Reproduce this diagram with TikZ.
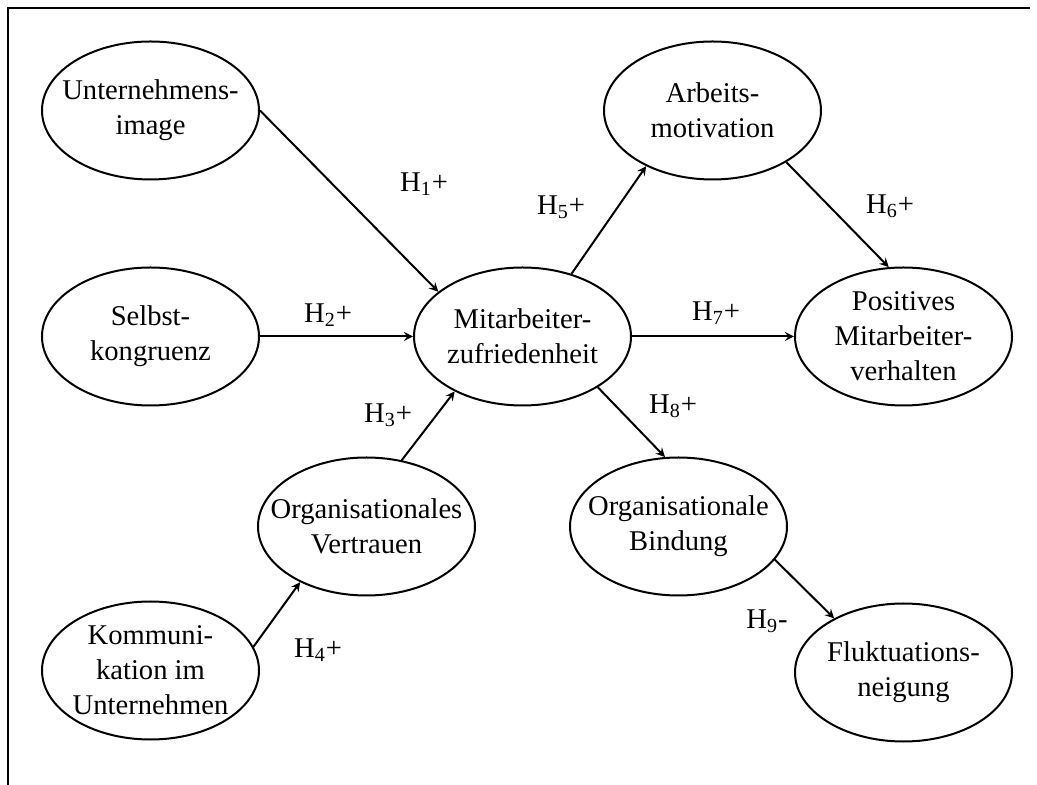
\documentclass[tikz,border=0pt]{standalone}
\usepackage{fontspec}
\setmainfont{Liberation Serif}
\usetikzlibrary{shapes.geometric}

\begin{document}
\begin{tikzpicture}[x=1pt,y=1pt,->,>=stealth,auto,node distance=186pt,line width=1pt,
    latent/.style={ellipse,draw,minimum width=108.5pt,minimum height=69pt,inner xsep=-25pt,inner ysep=-12pt,align=center,font=\fontsize{14.3}{17.5}\selectfont},
    hyp/.style={inner sep=0pt,font=\fontsize{14.3}{17.5}\selectfont}]

    \useasboundingbox (-261.25,-224.25) rectangle (257.25,168.25);
    \draw[-,line width=1.2pt] (253.75,164.25) -- (-257.25,164.25) -- (-257.25,-224.25);

    \node[latent] (zuf) {Mitarbeiter-\\zufriedenheit};
    \node[latent] (selbst)[left of = zuf] {Selbst-\\kongruenz};
    \node[latent] (image)[above of = selbst, yshift=-73pt] {Unternehmens-\\image};
    \node[latent] (komm)[below of = selbst, yshift=19pt] {Kommuni-\\kation im\\Unternehmen};
    \node[latent] (vertr)[below of = zuf, xshift=-78pt, yshift=91pt] {Organisationales\\Vertrauen};
    \node[latent] (motiv)[above of = zuf, xshift=95pt, yshift=-73pt] {Arbeits-\\motivation};
    \node[latent] (pos)[right of = zuf, xshift=4.5pt] {Positives\\Mitarbeiter-\\verhalten};
    \node[latent] (bind)[below of = zuf, xshift=78pt, yshift=91pt] {Organisationale\\Bindung};
    \node[latent] (fluk)[below of = pos, yshift=18pt] {Fluktuations-\\neigung};

    \node[hyp] (h1) at (-49.25,76.25) {H\textsubscript{1}+};
    \node[hyp] (h2) at (-97.25,10.75) {H\textsubscript{2}+};
    \node[hyp] (h3) at (-67.25,-39.25) {H\textsubscript{3}+};
    \node[hyp] (h4) at (-102.25,-156.75) {H\textsubscript{4}+};
    \node[hyp] (h5) at (19.25,64.75) {H\textsubscript{5}+};
    \node[hyp] (h6) at (183.75,65.25) {H\textsubscript{6}+};
    \node[hyp] (h7) at (96.75,11.75) {H\textsubscript{7}+};
    \node[hyp] (h8) at (75.25,-34.75) {H\textsubscript{8}+};
    \node[hyp] (h9) at (122.25,-142.25) {H\textsubscript{9}-};

    \path
        (image.east) edge (zuf.152)
        (selbst.east) edge (zuf.west)
        (vertr.62) edge (zuf.219)
        (komm.13) edge (vertr.220)
        (zuf.52) edge (motiv.220)
        (motiv.325) edge (pos.102)
        (zuf.east) edge (pos.west)
        (zuf.326) edge (bind.101)
        (bind.341) edge (fluk.142)
        ;
\end{tikzpicture}
\end{document}
